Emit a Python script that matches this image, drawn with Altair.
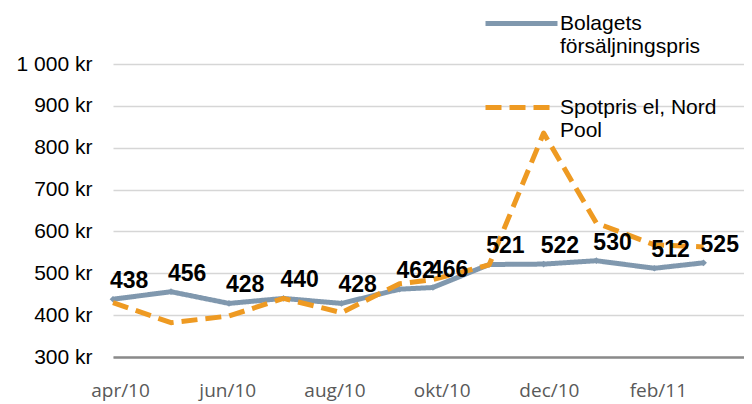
import altair as alt
import pandas as pd

# --- data ---
dates = ["2010-03-28", "2010-04-30", "2010-06-02", "2010-07-03", "2010-08-05", "2010-09-07",
         "2010-09-26", "2010-10-28", "2010-11-28", "2010-12-28", "2011-01-30", "2011-02-27"]
bolaget = [438, 456, 428, 440, 428, 462, 466, 521, 522, 530, 512, 525]
spotpris = [430, 382, 398, 440, 406, 475, 485, 520, 835, 620, 568, 563]
series = ["Bolagets försäljningspris", "Spotpris el, Nord Pool"]
legend_lines = [["Bolagets", "försäljningspris"], ["Spotpris el, Nord", "Pool"]]
tick_dates = ["2010-04-01", "2010-06-01", "2010-08-01", "2010-10-01", "2010-12-01", "2011-02-01"]
months_sv = ["jan", "feb", "mar", "apr", "maj", "jun", "jul", "aug", "sep", "okt", "nov", "dec"]
y_ticks = [300, 400, 500, 600, 700, 800, 900, 1000]
x_domain = ["2010-03-28", "2011-03-22"]
y_domain = [300, 1000]

colors = ["#8098ae", "#ee9a22"]


def ms(d):
    return int(pd.Timestamp(d, tz="UTC").timestamp() * 1000)


df = pd.DataFrame({
    "date": dates * 2,
    "value": bolaget + spotpris,
    "series": [series[0]] * len(dates) + [series[1]] * len(dates),
})

month_arr = "[" + ",".join(f"'{m}'" for m in months_sv) + "]"
x_label_expr = month_arr + "[utcmonth(datum.value)] + '/' + utcFormat(datum.value, '%y')"
y_label_expr = "replace(format(datum.value, ',d'), ',', ' ') + ' kr'"


def arr(lines):
    return "[" + ",".join(f"'{l}'" for l in lines) + "]"


legend_expr = f"datum.label == '{series[0]}' ? {arr(legend_lines[0])} : {arr(legend_lines[1])}"

x_enc = alt.X(
    "date:T",
    scale=alt.Scale(type="utc", domain=[ms(d) for d in x_domain]),
    axis=alt.Axis(values=[ms(d) for d in tick_dates], labelExpr=x_label_expr, title=None,
                  grid=False, ticks=False, labelPadding=24, labelFont="Open Sans",
                  labelFontSize=19, labelColor="#595959", domainColor="#8a8a8a",
                  domainWidth=2.5, labelOverlap=False),
)
y_enc = alt.Y(
    "value:Q",
    scale=alt.Scale(domain=y_domain, nice=False, zero=False),
    axis=alt.Axis(values=y_ticks, labelExpr=y_label_expr, title=None, ticks=False, domain=False,
                  labelPadding=21, labelFont="Liberation Sans", labelFontSize=21,
                  labelColor="#000000", gridColor="#d6d6d6", gridWidth=1.5),
)

legend = alt.Legend(
    orient="none", legendX=370, legendY=-79, title=None, symbolType="stroke",
    symbolSize=5184, symbolStrokeWidth=5, labelFontSize=21, labelFont="Liberation Sans",
    labelColor="#000000", labelLimit=0, labelExpr=legend_expr, rowPadding=12,
    labelOffset=0, padding=0,
)

color_enc = alt.Color("series:N", scale=alt.Scale(domain=series, range=colors), legend=legend)
dash_enc = alt.StrokeDash("series:N", scale=alt.Scale(domain=series, range=[[1, 0], [16, 8]]),
                          legend=legend)

base = alt.Chart(df)

blue_line = base.transform_filter(alt.datum.series == series[0]).mark_line(
    strokeWidth=5, strokeJoin="round").encode(x=x_enc, y=y_enc, color=color_enc, strokeDash=dash_enc)
orange_line = base.transform_filter(alt.datum.series == series[1]).mark_line(
    strokeWidth=5, strokeJoin="round").encode(x=x_enc, y=y_enc, color=color_enc, strokeDash=dash_enc)
blue_points = base.transform_filter(alt.datum.series == series[0]).mark_point(
    shape="diamond", filled=True, size=45, opacity=1, color=colors[0]).encode(x=x_enc, y=y_enc)
labels = base.transform_filter(alt.datum.series == series[0]).mark_text(
    align="left", baseline="middle", dx=-3, dy=-18, font="Liberation Sans", fontWeight="bold",
    fontSize=23, color="#000000").encode(x=x_enc, y=y_enc, text="value:Q")

chart = alt.layer(blue_line, blue_points, orange_line, labels).properties(
    width=631, height=293,
    autosize=alt.AutoSizeParams(type="none"),
    padding={"left": 105, "top": 56, "right": 0, "bottom": 47},
).configure_view(stroke=None)

chart.save("out.html", embed_options={"renderer": "svg", "actions": False})
